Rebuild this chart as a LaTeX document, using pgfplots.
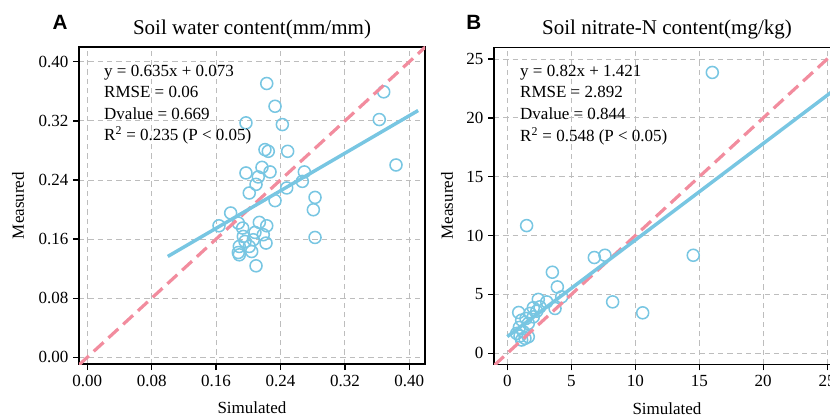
\documentclass[border=0pt]{standalone}
\usepackage{pgfplots}
\pgfplotsset{compat=1.18}
\usepackage{fontspec}
\setmainfont{Liberation Serif}
\newfontfamily\panelfont{Liberation Sans}
\definecolor{cblue}{HTML}{78C6E2}
\definecolor{cpink}{HTML}{F28C9E}
\definecolor{cgrid}{HTML}{BDBDBD}

\pgfplotstableread{
x y
0.2229 0.3706
0.2332 0.3398
0.1971 0.3173
0.2423 0.3150
0.3682 0.3593
0.3627 0.3218
0.3835 0.2603
0.2207 0.2811
0.2248 0.2788
0.2489 0.2788
0.1971 0.2495
0.2170 0.2571
0.2270 0.2509
0.2124 0.2441
0.2096 0.2341
0.2012 0.2224
0.2696 0.2509
0.2671 0.2381
0.2477 0.2292
0.2332 0.2120
0.2829 0.2164
0.2808 0.1997
0.2829 0.1622
0.1781 0.1953
0.1636 0.1780
0.1876 0.1817
0.1930 0.1749
0.2137 0.1826
0.2229 0.1780
0.1938 0.1636
0.2083 0.1690
0.2186 0.1659
0.2062 0.1591
0.2220 0.1546
0.1888 0.1500
0.1888 0.1387
0.2042 0.1432
0.2012 0.1500
0.2096 0.1238
0.1959 0.1568
0.1876 0.1418
}\dataA

\pgfplotstableread{
x y
1.51 10.85
6.80 8.14
7.63 8.33
14.53 8.33
3.52 6.89
3.91 5.64
4.25 4.80
3.73 3.81
8.23 4.37
10.58 3.44
2.42 4.58
3.08 4.37
0.89 3.47
2.03 3.87
2.30 3.58
1.46 2.96
1.12 2.82
1.77 3.39
1.64 2.54
0.94 2.20
1.25 1.83
0.99 1.47
1.38 1.27
1.64 1.41
1.12 1.13
0.73 1.69
2.03 3.10
2.55 3.95
16.02 23.86
}\dataB

\pgfplotsset{
  myaxis/.style={
    scale only axis, width=259.5pt, height=237.75pt,
    clip mode=individual,
    axis line style={line width=1.1pt},
    tick align=outside, tick pos=left,
    major tick length=4.5pt,
    tick style={line width=1pt, black},
    grid=major,
    grid style={cgrid, dash pattern=on 4pt off 3pt, line width=0.7pt},
    font=\fontsize{12.75}{15}\selectfont,
    ticklabel style={font=\fontsize{12.75}{15}\selectfont},
    /pgf/number format/assume math mode=true,
    title style={font=\fontsize{15.75}{18}\selectfont, at={(axis description cs:0.5,1.03)}, anchor=center},
    xlabel style={at={(axis description cs:0.5,-0.139)}, anchor=center},
    xlabel={Simulated}, ylabel={Measured},
    anchor=south west,
  },
  pts/.style={only marks, mark=o, mark size=4.5pt, cblue, line width=1.15pt},
  oneone/.style={cpink, line width=2.4pt, dash pattern=on 10pt off 5pt},
  fitline/.style={cblue, line width=2.6pt},
}

\begin{document}
\begin{tikzpicture}
\useasboundingbox (0,0) rectangle (622.5pt,-312pt);

\begin{axis}[myaxis,
  at={(59.25pt,-273pt)},
  xmin=-0.0103, xmax=0.4195, ymin=-0.0091, ymax=0.42,
  xtick={0,0.08,0.16,0.24,0.32,0.40},
  ytick={0,0.08,0.16,0.24,0.32,0.40},
  xticklabel style={/pgf/number format/.cd, fixed, fixed zerofill, precision=2},
  yticklabel style={/pgf/number format/.cd, fixed, fixed zerofill, precision=2},
  ylabel style={at={(axis description cs:-0.176,0.5)}, anchor=center},
  title={Soil water content(mm/mm)},
]
\addplot[pts] table[x=x,y=y] {\dataA};
\addplot[oneone] coordinates {(-0.0103,-0.0103) (0.42,0.42)};
\addplot[fitline] coordinates {(0.10,0.1365) (0.411,0.334)};
\node[anchor=north west, align=left, inner sep=0pt, font=\fontsize{12.75}{16.2}\selectfont]
  at (axis description cs:0.072,0.945)
  {y = 0.635x + 0.073\\RMSE = 0.06\\Dvalue = 0.669\\R\textsuperscript{2} = 0.235 (P < 0.05)};
\node[font=\panelfont\bfseries\fontsize{15.5}{18}\selectfont] at (axis description cs:-0.055,1.079) {A};
\end{axis}

\begin{axis}[myaxis,
  at={(370.5pt,-273.2pt)},
  xmin=-1.04, xmax=26, ymin=-0.93, ymax=26,
  xtick={0,5,10,15,20,25},
  ytick={0,5,10,15,20,25},
  ylabel style={at={(axis description cs:-0.136,0.5)}, anchor=center},
  title={Soil nitrate-N content(mg/kg)},
]
\addplot[pts] table[x=x,y=y] {\dataB};
\addplot[oneone] coordinates {(-1.04,-1.04) (26,26)};
\addplot[fitline] coordinates {(0,1.421) (26,22.741)};
\node[anchor=north west, align=left, inner sep=0pt, font=\fontsize{12.75}{16.2}\selectfont]
  at (axis description cs:0.075,0.945)
  {y = 0.82x + 1.421\\RMSE = 2.892\\Dvalue = 0.844\\R\textsuperscript{2} = 0.548 (P < 0.05)};
\node[font=\panelfont\bfseries\fontsize{15.5}{18}\selectfont] at (axis description cs:-0.058,1.079) {B};
\end{axis}
\end{tikzpicture}
\end{document}
